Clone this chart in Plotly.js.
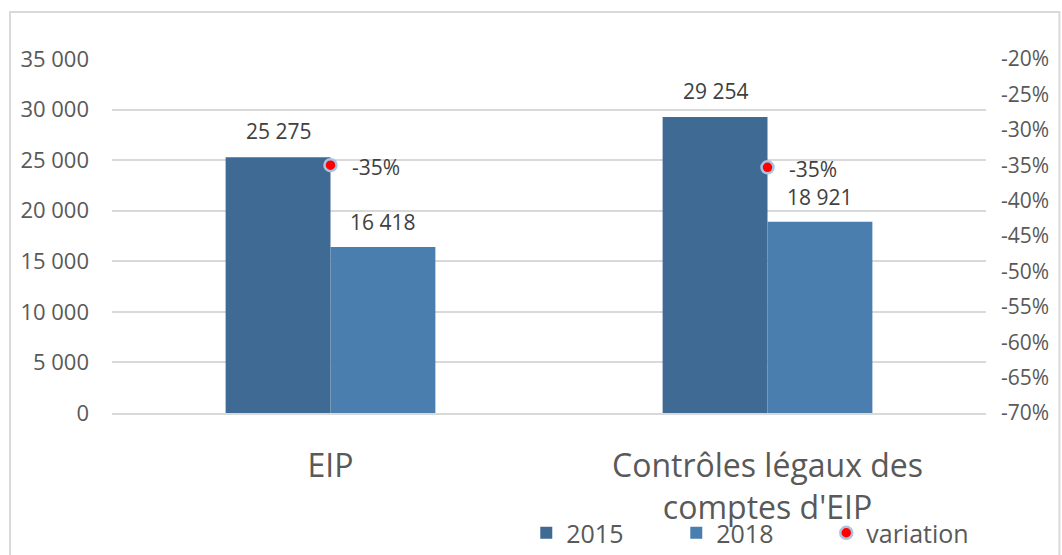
<!DOCTYPE html>
<html>
<head>
<meta charset="utf-8">
<script src="https://cdn.plot.ly/plotly-3.0.1.min.js"></script>
<style>html,body{margin:0;padding:0;background:#fff;}#chart{width:1062px;height:555px;}</style>
</head>
<body>
<div id="chart"></div>
<script>
const categories = ["EIP", "Contrôles légaux des<br>comptes d'EIP"];
const values2015 = [25275, 29254];
const values2018 = [16418, 18921];
const variation = [-0.35, -0.353];
const variationLabels = ["-35%", "-35%"];
const leftTickVals = [0, 5000, 10000, 15000, 20000, 25000, 30000, 35000];
const leftTickText = ["0", "5 000", "10 000", "15 000", "20 000", "25 000", "30 000", "35 000"];
const rightTickVals = [-0.70, -0.65, -0.60, -0.55, -0.50, -0.45, -0.40, -0.35, -0.30, -0.25, -0.20];
const rightTickText = ["-70%", "-65%", "-60%", "-55%", "-50%", "-45%", "-40%", "-35%", "-30%", "-25%", "-20%"];

const FONT = "Open Sans, Noto Sans, sans-serif";
const fmt = v => String(v).replace(/\B(?=(\d{3})+(?!\d))/g, ' ');

const traces = [
  {type: 'bar', name: '2015', x: categories, y: values2015, marker: {color: '#3E6A94'}, hoverinfo: 'none'},
  {type: 'bar', name: '2018', x: categories, y: values2018, marker: {color: '#4A7EAE'}, hoverinfo: 'none'},
  {type: 'scatter', mode: 'markers', name: 'variation', x: categories, y: variation, yaxis: 'y2',
   marker: {color: '#FF0000', size: 12, line: {color: '#A9C3E3', width: 2.5}}, hoverinfo: 'none'}
];

const annotations = [];
categories.forEach((c, i) => {
  annotations.push({x: c, y: values2015[i], xref: 'x', yref: 'y', text: fmt(values2015[i]), showarrow: false,
    xshift: -52, yshift: 26, yanchor: 'middle', font: {family: FONT, size: 21, color: '#404040'}});
  annotations.push({x: c, y: values2018[i], xref: 'x', yref: 'y', text: fmt(values2018[i]), showarrow: false,
    xshift: 52, yshift: 25, yanchor: 'middle', font: {family: FONT, size: 21, color: '#404040'}});
  annotations.push({x: c, y: variation[i], xref: 'x', yref: 'y2', text: variationLabels[i], showarrow: false,
    xanchor: 'left', xshift: 19, yshift: -2, yanchor: 'middle', font: {family: FONT, size: 21, color: '#404040'}});
});

const layout = {
  width: 1062, height: 555,
  margin: {l: 112, r: 76, t: 59, b: 142, pad: 0, autoexpand: false},
  paper_bgcolor: '#ffffff', plot_bgcolor: '#ffffff',
  font: {family: FONT, color: '#595959'},
  barmode: 'group', bargap: 0.52, bargroupgap: 0,
  showlegend: true,
  legend: {orientation: 'h', x: 0.474, xanchor: 'left', y: -0.339, yanchor: 'middle',
    font: {family: FONT, size: 25, color: '#595959'}, entrywidth: 105, bgcolor: 'rgba(0,0,0,0)'},
  xaxis: {type: 'category', showgrid: false, showline: true, linecolor: '#D9D9D9', linewidth: 2,
    ticks: '', ticklabelstandoff: 24, tickfont: {family: FONT, size: 32, color: '#595959'}, fixedrange: true},
  yaxis: {range: [0, 35000], tickvals: leftTickVals, ticktext: leftTickText, showgrid: true,
    gridcolor: '#D9D9D9', gridwidth: 2, zeroline: false, showline: false, ticks: '', ticklabelstandoff: 22,
    tickfont: {family: FONT, size: 22, color: '#595959'}, fixedrange: true},
  yaxis2: {range: [-0.70, -0.20], overlaying: 'y', side: 'right', tickvals: rightTickVals, ticktext: rightTickText,
    showgrid: false, zeroline: false, showline: false, ticks: '', ticklabelstandoff: 14,
    tickfont: {family: FONT, size: 21, color: '#595959'}, fixedrange: true},
  annotations: annotations,
  shapes: [{type: 'rect', xref: 'paper', yref: 'paper', x0: -0.1167, x1: 1.084, y0: -0.5, y1: 1.133,
    line: {color: '#D9D9D9', width: 2}, fillcolor: 'rgba(0,0,0,0)', layer: 'below'}]
};

Plotly.newPlot('chart', traces, layout, {displayModeBar: false, staticPlot: true});
</script>
</body>
</html>
